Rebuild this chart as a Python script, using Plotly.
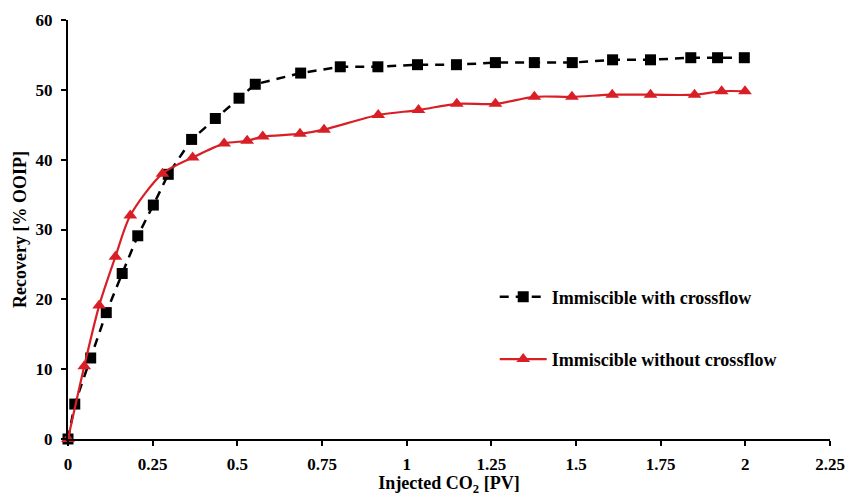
import plotly.graph_objects as go

# Immiscible CO2 injection with crossflow
pv_with = [0, 0.02, 0.067, 0.113, 0.16, 0.206, 0.252, 0.296, 0.365, 0.435, 0.505, 0.553,
           0.687, 0.804, 0.915, 1.032, 1.147, 1.262, 1.377, 1.489, 1.608, 1.72, 1.839, 1.918, 1.997]
rec_with = [0, 5.0, 11.6, 18.1, 23.7, 29.1, 33.5, 37.9, 42.9, 45.9, 48.8, 50.8,
            52.4, 53.3, 53.3, 53.6, 53.6, 53.9, 53.9, 53.9, 54.3, 54.3, 54.6, 54.6, 54.6]

# Immiscible CO2 injection without crossflow
pv_without = [0, 0.048, 0.092, 0.14, 0.184, 0.279, 0.368, 0.461, 0.529, 0.575, 0.685,
              0.756, 0.916, 1.035, 1.148, 1.262, 1.377, 1.488, 1.607, 1.72, 1.85, 1.93, 1.999]
rec_without = [0, 10.4, 19.1, 26.1, 32.0, 38.0, 40.3, 42.3, 42.7, 43.3, 43.7,
               44.3, 46.4, 47.1, 48.0, 48.0, 49.0, 49.0, 49.3, 49.3, 49.3, 49.8, 49.8]

x_ticks = [0, 0.25, 0.5, 0.75, 1, 1.25, 1.5, 1.75, 2, 2.25]
x_tick_text = ["0", "0.25", "0.5", "0.75", "1", "1.25", "1.5", "1.75", "2", "2.25"]
y_ticks = [0, 10, 20, 30, 40, 50, 60]

FONT = "Liberation Serif"
RED = "#d91f26"

fig = go.Figure()
fig.add_trace(go.Scatter(
    x=pv_with, y=rec_with, mode="lines+markers",
    name="Immiscible with crossflow", legendgroup="a",
    line=dict(color="black", width=2.5, dash="9px,7px"),
    marker=dict(symbol="square", size=11, color="black"),
    cliponaxis=False,
))
fig.add_trace(go.Scatter(
    x=pv_without, y=rec_without, mode="lines+markers",
    name="Immiscible without crossflow", legendgroup="b",
    line=dict(color=RED, width=2.2, shape="spline", smoothing=0.8),
    marker=dict(symbol="triangle-up", size=12, color=RED),
    cliponaxis=False,
))

tick_font = dict(family=FONT, size=17, color="black", weight="bold")
title_font = dict(family=FONT, size=18, color="black", weight="bold")

fig.update_layout(
    width=846, height=496,
    margin=dict(l=68, r=16, t=20, b=57),
    paper_bgcolor="white", plot_bgcolor="white",
    font=dict(family=FONT, color="black"),
    showlegend=True,
    legend=dict(
        x=0.56, y=0.265, xanchor="left", yanchor="middle",
        bgcolor="rgba(0,0,0,0)", borderwidth=0,
        font=dict(family=FONT, size=18, color="black", weight="bold"),
        tracegroupgap=36, traceorder="grouped", itemwidth=47,
    ),
    xaxis=dict(
        range=[0, 2.25], tickvals=x_ticks, ticktext=x_tick_text,
        showgrid=False, zeroline=False, automargin=False,
        showline=True, linecolor="black", linewidth=2,
        ticks="outside", ticklen=5, tickwidth=1.5, tickcolor="black",
        ticklabelstandoff=4,
        tickfont=tick_font,
        title=dict(text="Injected CO<sub>2</sub> [PV]", font=title_font, standoff=12),
    ),
    yaxis=dict(
        range=[0, 60], tickvals=y_ticks,
        showgrid=False, zeroline=False, automargin=False,
        showline=True, linecolor="black", linewidth=2,
        ticks="outside", ticklen=5, tickwidth=1.5, tickcolor="black",
        ticklabelstandoff=5,
        tickfont=tick_font,
        title=dict(text="Recovery [% OOIP]", font=title_font, standoff=4),
    ),
)

fig.write_html("out.html")
